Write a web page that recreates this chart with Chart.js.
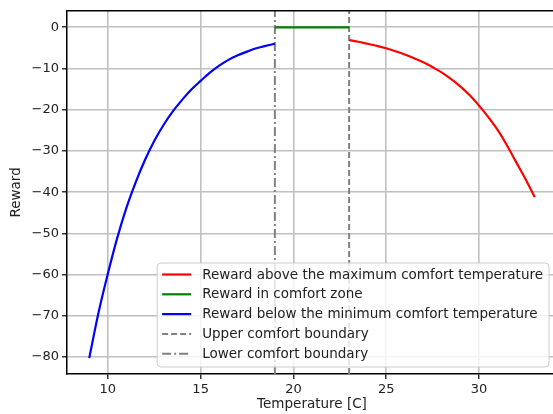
<!DOCTYPE html>
<html>
<head>
<meta charset="utf-8">
<script src="https://cdn.jsdelivr.net/npm/chart.js@4"></script>
<style>
    html, body { margin: 0; padding: 0; background: #fff; overflow: hidden; }
    canvas { display: block; }
</style>
</head>
<body>
<canvas id="graficoRecompensa" width="560" height="414"></canvas>
<script>
// =============================
// DADOS
// =============================

const temperaturasAbaixo = [9, 9.5, 10, 10.5, 11, 11.5, 12, 12.5, 13, 13.5, 14, 14.5, 15, 15.5, 16, 16.5, 17, 17.5, 18, 18.5, 19];
const recompensaAbaixo = [-80.2, -69.2, -59.8, -51.2, -43.8, -37.6, -32.2, -27.6, -23.7, -20.4, -17.6, -15.1, -13.0, -11.0, -9.3, -7.9, -6.8, -5.9, -5.1, -4.5, -4.0];

const temperaturasConforto = [19, 23];
const recompensaConforto = [0, 0];

const temperaturasAcima = [23, 23.5, 24, 24.5, 25, 25.5, 26, 26.5, 27, 27.5, 28, 28.5, 29, 29.5, 30, 30.5, 31, 31.5, 32, 32.5, 33];
const recompensaAcima = [-3.1, -3.5, -4.0, -4.5, -5.1, -5.8, -6.6, -7.5, -8.5, -9.7, -11.0, -12.6, -14.4, -16.5, -19.0, -21.8, -24.9, -28.6, -32.7, -36.8, -41.2];

const limiteInferior = 19;
const limiteSuperior = 23;

const ticksX = [10, 15, 20, 25, 30];
const ticksY = [0, -10, -20, -30, -40, -50, -60, -70, -80];
const limitesX = [7.8, 34.2];
const limitesY = [-84.1, 4.0];


// =============================
// FUNÇÕES AUXILIARES
// =============================

function juntarPontos(xs, ys) {
    return xs.map((x, i) => ({ x: x, y: ys[i] }));
}

function linhaVertical(x) {
    return [{ x: x, y: limitesY[0] }, { x: x, y: limitesY[1] }];
}

function formatarTick(valor) {
    return valor < 0 ? '\u2212' + Math.abs(valor) : String(valor);
}

const fonteTicks = { family: 'DejaVu Sans', size: 13 };
const fonte = { family: 'DejaVu Sans', size: 13.5 };
const corTexto = '#222';


// =============================
// PLUGINS
// =============================

const molduraSuperior = {
    id: 'molduraSuperior',
    afterDraw(chart) {
        const { ctx, chartArea } = chart;
        ctx.save();
        ctx.strokeStyle = '#000';
        ctx.lineWidth = 1.5;
        ctx.beginPath();
        ctx.moveTo(chartArea.left, chartArea.top);
        ctx.lineTo(chartArea.right, chartArea.top);
        ctx.lineTo(chartArea.right, chartArea.bottom);
        ctx.stroke();
        ctx.restore();
    }
};

const legendaInterna = {
    id: 'legendaInterna',
    afterDraw(chart) {
        const { ctx, chartArea } = chart;
        const datasets = chart.data.datasets;

        ctx.save();
        ctx.font = `${fonte.size}px '${fonte.family}'`;

        const larguraTexto = Math.max(...datasets.map(d => ctx.measureText(d.label).width));
        const largura = 45 + larguraTexto + 6;
        const altura = 104;
        const x = chartArea.right - 8 - largura;
        const y = chartArea.bottom - 7 - altura;

        ctx.beginPath();
        ctx.roundRect(x, y, largura, altura, 4);
        ctx.fillStyle = 'rgba(255,255,255,0.8)';
        ctx.fill();
        ctx.strokeStyle = '#cccccc';
        ctx.lineWidth = 1;
        ctx.stroke();

        datasets.forEach((d, i) => {
            const yLinha = y + 11.5 + i * 19.8;

            ctx.beginPath();
            ctx.setLineDash(d.borderDash || []);
            ctx.strokeStyle = d.borderColor;
            ctx.lineWidth = d.borderWidth;
            ctx.moveTo(x + 5, yLinha);
            ctx.lineTo(x + 34, yLinha);
            ctx.stroke();
            ctx.setLineDash([]);

            ctx.fillStyle = corTexto;
            ctx.textBaseline = 'middle';
            ctx.textAlign = 'left';
            ctx.fillText(d.label, x + 45, yLinha + 0.5);
        });

        ctx.restore();
    }
};


// =============================
// GRÁFICO: RECOMPENSA
// =============================

function carregarGrafico() {
    const ctx = document.getElementById('graficoRecompensa');

    new Chart(ctx, {
        type: 'line',
        data: {
            datasets: [
                {
                    label: 'Reward above the maximum comfort temperature',
                    data: juntarPontos(temperaturasAcima, recompensaAcima),
                    borderColor: '#ff0000',
                    borderWidth: 2.2,
                    cubicInterpolationMode: 'monotone'
                },
                {
                    label: 'Reward in comfort zone',
                    data: juntarPontos(temperaturasConforto, recompensaConforto),
                    borderColor: '#008000',
                    borderWidth: 2.2
                },
                {
                    label: 'Reward below the minimum comfort temperature',
                    data: juntarPontos(temperaturasAbaixo, recompensaAbaixo),
                    borderColor: '#0000ff',
                    borderWidth: 2.2,
                    cubicInterpolationMode: 'monotone'
                },
                {
                    label: 'Upper comfort boundary',
                    data: linhaVertical(limiteSuperior),
                    borderColor: '#808080',
                    borderWidth: 2,
                    borderDash: [6, 3]
                },
                {
                    label: 'Lower comfort boundary',
                    data: linhaVertical(limiteInferior),
                    borderColor: '#808080',
                    borderWidth: 2,
                    borderDash: [9, 3, 2, 3]
                }
            ]
        },
        options: {
            responsive: false,
            animation: false,
            devicePixelRatio: 1,
            layout: {
                padding: { left: 0, top: 10, right: 3, bottom: 0 }
            },
            elements: {
                point: { radius: 0 },
                line: { fill: false }
            },
            plugins: {
                legend: { display: false },
                tooltip: { enabled: false }
            },
            scales: {
                x: {
                    type: 'linear',
                    min: limitesX[0],
                    max: limitesX[1],
                    afterBuildTicks: escala => {
                        escala.ticks = ticksX.map(v => ({ value: v }));
                    },
                    afterFit: escala => {
                        escala.height = 40;
                    },
                    ticks: {
                        font: fonteTicks,
                        color: corTexto,
                        padding: 3,
                        maxRotation: 0
                    },
                    grid: {
                        color: '#c0c0c0',
                        lineWidth: 1.6,
                        tickColor: '#000',
                        tickLength: 5,
                        tickWidth: 1.2
                    },
                    border: { color: '#000', width: 1.5 },
                    title: {
                        display: true,
                        text: 'Temperature [C]',
                        font: fonte,
                        color: corTexto,
                        padding: { top: 0, bottom: 1 }
                    }
                },
                y: {
                    type: 'linear',
                    min: limitesY[0],
                    max: limitesY[1],
                    afterBuildTicks: escala => {
                        escala.ticks = ticksY.map(v => ({ value: v }));
                    },
                    afterFit: escala => {
                        escala.width = 67;
                    },
                    ticks: {
                        font: fonteTicks,
                        color: corTexto,
                        padding: 3,
                        callback: formatarTick
                    },
                    grid: {
                        color: '#c0c0c0',
                        lineWidth: 1.6,
                        tickColor: '#000',
                        tickLength: 5,
                        tickWidth: 1.2
                    },
                    border: { color: '#000', width: 1.5 },
                    title: {
                        display: true,
                        text: 'Reward',
                        font: fonte,
                        color: corTexto,
                        padding: { top: 8, bottom: 0 }
                    }
                }
            }
        },
        plugins: [molduraSuperior, legendaInterna]
    });
}


// =============================
// INICIAR
// =============================

carregarGrafico();
</script>
</body>
</html>
